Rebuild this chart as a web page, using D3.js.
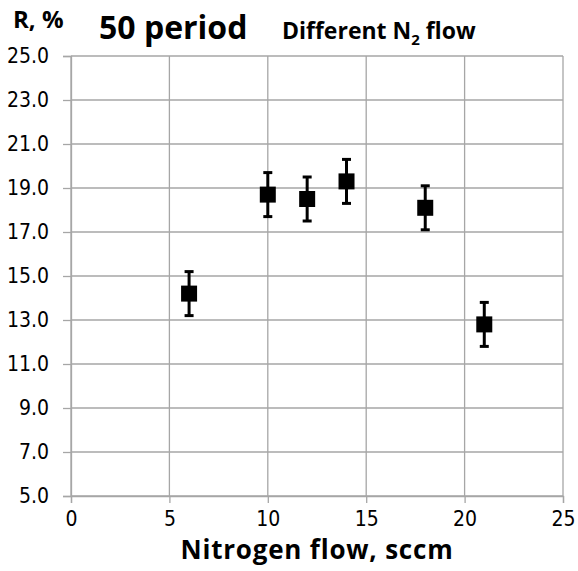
<!DOCTYPE html>
<html>
<head>
<meta charset="utf-8">
<script src="https://cdn.jsdelivr.net/npm/d3@7"></script>
<style>
  body { margin: 0; background: #fff; }
  text { font-family: "DejaVu Sans", sans-serif; fill: #000; }
</style>
</head>
<body>
<div id="chart"></div>
<script>
// nitrogen flow (sccm) and reflectance R (%), error +/- 1
var flow = [6, 10, 12, 14, 18, 21];
var refl = [14.2, 18.7, 18.5, 19.3, 18.1, 12.8];
var errs = [1, 1, 1, 1, 1, 1];
var xTicks = [0, 5, 10, 15, 20, 25];
var yTicks = [5, 7, 9, 11, 13, 15, 17, 19, 21, 23, 25];

var width = 578, height = 571;
var margin = {top: 56, right: 15, bottom: 75, left: 71};
var tickFont = "'DejaVu Sans Condensed', 'DejaVu Sans', sans-serif";

var svg = d3.select("#chart")
    .append("svg")
    .attr("width", width)
    .attr("height", height);

var x = d3.scaleLinear().domain([0, 25]).range([margin.left, width - margin.right]);
var y = d3.scaleLinear().domain([5, 25]).range([height - margin.bottom, margin.top]);

// grid
svg.append("g")
    .selectAll("line.hgrid")
    .data(yTicks)
    .enter()
    .append("line")
    .attr("x1", x(0)).attr("x2", x(25))
    .attr("y1", function(d) { return y(d); })
    .attr("y2", function(d) { return y(d); })
    .style("stroke", "#a6a6a6")
    .style("stroke-width", 1.3);

svg.append("g")
    .selectAll("line.vgrid")
    .data(xTicks)
    .enter()
    .append("line")
    .attr("y1", y(5)).attr("y2", y(25))
    .attr("x1", function(d) { return x(d); })
    .attr("x2", function(d) { return x(d); })
    .style("stroke", "#a6a6a6")
    .style("stroke-width", 1.3);

// axes
var yAxis = svg.append("g")
    .attr("transform", "translate(" + x(0) + ",0)")
    .call(d3.axisLeft(y).tickValues(yTicks).tickFormat(d3.format(".1f")).tickSize(8).tickPadding(14));
var xAxis = svg.append("g")
    .attr("transform", "translate(0," + y(5) + ")")
    .call(d3.axisBottom(x).tickValues(xTicks).tickFormat(d3.format("d")).tickSize(7).tickPadding(8));

[xAxis, yAxis].forEach(function(a) {
    a.select(".domain").style("stroke", "#a6a6a6").style("stroke-width", 1.3);
    a.selectAll(".tick line").style("stroke", "#a6a6a6").style("stroke-width", 1.3);
    a.selectAll(".tick text").style("font-size", "21px").style("font-family", tickFont).attr("fill", "#000");
});

// error bars
var pts = flow.map(function(f, i) { return {x: f, y: refl[i], e: errs[i]}; });

var eb = svg.append("g").selectAll("g").data(pts).enter().append("g");
eb.append("line")
    .attr("x1", function(d) { return x(d.x); })
    .attr("x2", function(d) { return x(d.x); })
    .attr("y1", function(d) { return y(d.y - d.e); })
    .attr("y2", function(d) { return y(d.y + d.e); })
    .style("stroke", "#000").style("stroke-width", 3);
eb.append("line")
    .attr("x1", function(d) { return x(d.x) - 4.5; })
    .attr("x2", function(d) { return x(d.x) + 4.5; })
    .attr("y1", function(d) { return y(d.y + d.e); })
    .attr("y2", function(d) { return y(d.y + d.e); })
    .style("stroke", "#000").style("stroke-width", 3);
eb.append("line")
    .attr("x1", function(d) { return x(d.x) - 4.5; })
    .attr("x2", function(d) { return x(d.x) + 4.5; })
    .attr("y1", function(d) { return y(d.y - d.e); })
    .attr("y2", function(d) { return y(d.y - d.e); })
    .style("stroke", "#000").style("stroke-width", 3);

// markers
svg.append("g").selectAll("rect").data(pts).enter().append("rect")
    .attr("x", function(d) { return x(d.x) - 8; })
    .attr("y", function(d) { return y(d.y) - 8; })
    .attr("width", 16).attr("height", 16)
    .attr("fill", "#000");

// titles
svg.append("text").attr("x", 13).attr("y", 28)
    .style("font-size", "24px").style("font-weight", "bold")
    .style("font-family", "Open Sans, sans-serif")
    .text("R, %");

var title = svg.append("text").attr("x", 99).attr("y", 39)
    .style("font-family", "Open Sans, sans-serif").style("font-weight", "bold");
title.append("tspan").style("font-size", "32px").text("50 period");
title.append("tspan").attr("x", 282).style("font-size", "23px").text("Different N");
title.append("tspan").style("font-size", "15px").attr("dy", 6).text("2");
title.append("tspan").style("font-size", "23px").attr("dy", -6).text(" flow");

svg.append("text")
    .attr("x", (x(0) + x(25)) / 2)
    .attr("y", 559)
    .attr("text-anchor", "middle")
    .style("font-size", "26px").style("font-weight", "bold")
    .style("letter-spacing", "0.8px")
    .style("font-family", "Open Sans, sans-serif")
    .text("Nitrogen flow, sccm");
</script>
</body>
</html>
